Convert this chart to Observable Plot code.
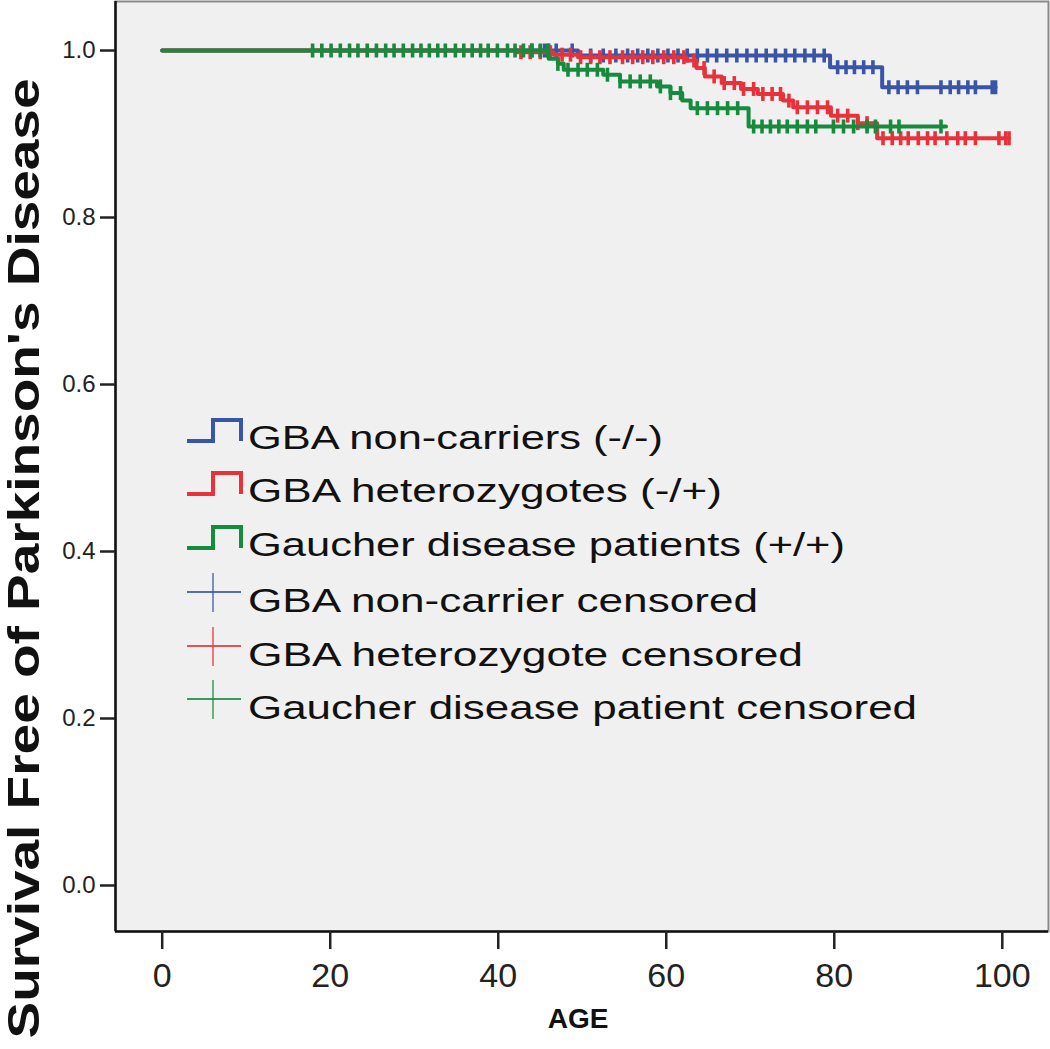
<!DOCTYPE html>
<html><head><meta charset="utf-8">
<script src="https://cdn.jsdelivr.net/npm/d3@7"></script>
<script src="https://cdn.jsdelivr.net/npm/@observablehq/plot@0.6"></script>
<style>
body{margin:0;background:#fff;}
#chart{width:1050px;height:1049px;}
</style>
</head><body><div id="chart"></div>
<script>
// ---- data ----
const seriesNames = ["GBA non-carriers (-/-)", "GBA heterozygotes (-/+)", "Gaucher disease patients (+/+)"];
const censorNames = ["GBA non-carrier censored", "GBA heterozygote censored", "Gaucher disease patient censored"];
const seriesColors = ["#3a55a6", "#e8323b", "#168b3e"];

// event ages and survival values after each event
const blueTimes = [0, 49.5, 79.5, 85.7];
const blueSurv  = [1, 0.994, 0.980, 0.956];
const blueEnd = 99.2;
const blueCensor = [44.0, 45.5, 46.0, 46.9, 48.8, 51, 52.5, 54, 55.4, 56.6, 57.8, 59.0, 60.2, 61.4, 62.5, 63.7, 64.9, 66.0, 67.2, 68.4, 69.6, 70.7, 71.9, 73.0, 74.2, 75.3, 76.5, 77.6, 78.8, 80.4, 81.4, 82.4, 83.5, 84.6, 86.5, 87.6, 88.7, 89.9, 92.7, 93.8, 94.8, 95.9, 96.8, 98.8, 99.2];

const redTimes = [0, 42.3, 46.6, 49.5, 62.4, 63.6, 64.6, 66.6, 68.9, 70.9, 73.9, 75.1, 79.6, 82.8, 85.1];
const redSurv  = [1, 0.998, 0.995, 0.992, 0.988, 0.979, 0.969, 0.961, 0.954, 0.948, 0.940, 0.932, 0.922, 0.913, 0.895];
const redEnd = 100.8;
const redCensor = [42.7, 43.8, 45, 46.2, 47.6, 48.6, 49.8, 51, 52.1, 53.3, 54.8, 56, 57.2, 58.4, 59.7, 60.9, 62.1, 63.3, 64.5, 65.7, 66.9, 68.1, 69.2, 70.4, 71.5, 72.6, 73.6, 74.6, 75.6, 76.8, 78, 79.2, 80.4, 81.6, 82.8, 83.9, 85.8, 86.9, 87.9, 88.8, 90.0, 91.1, 92.0, 93.4, 94.7, 95.6, 96.8, 99.6, 100.4, 100.8];

const greenTimes = [0, 46.0, 47.1, 47.8, 52.5, 54.5, 58.9, 60.5, 61.9, 62.9, 69.8];
const greenSurv  = [1, 0.990, 0.984, 0.977, 0.971, 0.963, 0.957, 0.949, 0.940, 0.931, 0.909];
const greenEnd = 93.3;
const greenCensor = [17.9, 19.0, 20.1, 21.2, 22.3, 23.3, 24.4, 25.5, 26.6, 27.6, 28.7, 29.8, 30.8, 31.8, 32.8, 33.7, 34.9, 35.9, 36.9, 37.9, 38.8, 39.9, 41.1, 42.0, 43.0, 44.0, 45.0, 45.9, 47.1, 48.3, 49.5, 50.6, 51.8, 53.0, 54.5, 55.7, 56.9, 58.1, 59.3, 60.5, 61.7, 63.7, 64.9, 66.1, 67.3, 68.5, 70.4, 71.4, 72.4, 73.4, 74.4, 75.6, 76.8, 77.8, 79.9, 81.1, 82.3, 83.9, 84.9, 86.7, 87.7, 92.7];

const xTicks = [0, 20, 40, 60, 80, 100];
const yTicks = [0, 0.2, 0.4, 0.6, 0.8, 1.0];
const xLabel = "AGE";
const yLabel = "Survival Free of Parkinson's Disease";

// ---- build tables ----
const series = [
  {times: blueTimes, surv: blueSurv, end: blueEnd, censor: blueCensor},
  {times: redTimes, surv: redSurv, end: redEnd, censor: redCensor},
  {times: greenTimes, surv: greenSurv, end: greenEnd, censor: greenCensor}
];
function survAt(s, t) {
  let v = s.surv[0];
  for (let i = 0; i < s.times.length; i++) if (s.times[i] <= t) v = s.surv[i];
  return v;
}
const xDomain = [-5.56, 105.5];
const yDomain = [-0.0551, 1.0587];

const vtick = {draw(ctx, size) { const r = Math.sqrt(size / Math.PI); ctx.moveTo(0, -r); ctx.lineTo(0, r); }};

const marks = [Plot.frame({fill: "#f0f0f0"})];
series.forEach((s, k) => {
  const pts = s.times.map((t, i) => ({age: t, surv: s.surv[i]}));
  pts.push({age: s.end, surv: s.surv[s.surv.length - 1]});
  const cens = s.censor.map(t => ({age: t, surv: survAt(s, t)}));
  marks.push(Plot.line(pts, {x: "age", y: "surv", curve: "step-after", stroke: seriesColors[k], strokeWidth: 4}));
  marks.push(Plot.dot(cens, {x: "age", y: "surv", symbol: vtick, r: 7, stroke: seriesColors[k], strokeWidth: 3.6, fill: "none"}));
});
marks.push(
  Plot.frame({stroke: "#8a8a8a", strokeWidth: 2}),
  Plot.ruleX([xDomain[0]], {stroke: "#111", strokeWidth: 2.5}),
  Plot.ruleY([yDomain[0]], {stroke: "#111", strokeWidth: 2.5}),
  Plot.axisX({ticks: xTicks, tickSize: 18, tickPadding: 13, fontSize: 34, label: null, color: "#222", strokeWidth: 2.5}),
  Plot.axisY({ticks: yTicks, tickFormat: d3.format(".1f"), tickSize: 15, tickPadding: 5, fontSize: 24, label: null, color: "#222", strokeWidth: 2.5}),
  Plot.text([xLabel], {frameAnchor: "bottom", dx: -4, dy: 96, lineAnchor: "bottom", fontSize: 28, fontWeight: "bold", fill: "#111"}),
  Plot.text([yLabel], {frameAnchor: "left", rotate: -90, dx: -77, dy: 92, lineAnchor: "bottom", textAnchor: "middle", fontSize: 45, fontWeight: "bold", fill: "#111"})
);

const chart = Plot.plot({
  width: 1050, height: 1049,
  marginLeft: 115, marginRight: 2, marginTop: 1, marginBottom: 118,
  x: {domain: xDomain},
  y: {domain: yDomain},
  style: {fontFamily: "'Liberation Sans', Arial, sans-serif", background: "white"},
  marks
});
document.getElementById("chart").appendChild(chart);

const svg = d3.select(chart);
svg.selectAll("text").filter(function() { return this.textContent === yLabel; })
  .attr("textLength", 960).attr("lengthAdjust", "spacingAndGlyphs");

// ---- legend (inside plot area) ----
const leg = svg.append("g").attr("font-family", "'Liberation Sans', Arial, sans-serif").attr("text-anchor", "start");
const rowBase = [449, 502, 556, 612, 666, 719];
const rowWidth = [415, 474, 597, 510, 555, 669];
const legendLabels = seriesNames.concat(censorNames);
legendLabels.forEach((label, i) => {
  const b = rowBase[i];
  const col = seriesColors[i % 3];
  if (i < 3) {
    const y0 = b - 8, y1 = b - 29;
    leg.append("path").attr("d", `M187,${y0}H213V${y1}H241V${y0}`)
      .attr("fill", "none").attr("stroke", col).attr("stroke-width", 4);
  } else {
    const yc = b - 20;
    leg.append("line").attr("x1", 187).attr("x2", 241).attr("y1", yc).attr("y2", yc)
      .attr("stroke", col).attr("stroke-width", 1.8).attr("stroke-opacity", 0.85);
    leg.append("line").attr("x1", 213).attr("x2", 213).attr("y1", yc - 19).attr("y2", yc + 20)
      .attr("stroke", col).attr("stroke-width", 1.8).attr("stroke-opacity", 0.7);
  }
  leg.append("text").attr("x", 248).attr("y", b).attr("font-size", 34).attr("fill", "#111")
    .attr("text-anchor", "start")
    .attr("textLength", rowWidth[i]).attr("lengthAdjust", "spacingAndGlyphs").text(label);
});
</script>
</body></html>
